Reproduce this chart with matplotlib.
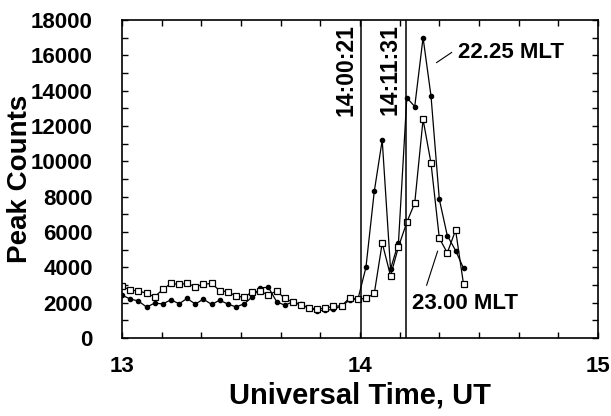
import numpy as np
import matplotlib
matplotlib.use("Agg")
import matplotlib.pyplot as plt
from matplotlib.ticker import MultipleLocator

plt.rcParams['font.family'] = ['Liberation Sans', 'DejaVu Sans']
plt.rcParams['font.weight'] = 'bold'

# sample times, minutes after 13:00 UT
minutes = [0, 2.1, 4.1, 6.2, 8.2, 10.3, 12.3, 14.4, 16.4, 18.5,
           20.5, 22.6, 24.6, 26.7, 28.7, 30.8, 32.8, 34.9, 36.9, 39.0,
           41.0, 43.1, 45.1, 47.2, 49.2, 51.3, 53.3, 55.4, 57.4, 59.5,
           61.5, 63.6, 65.6, 67.7, 69.7, 71.8, 73.8, 75.9, 77.9, 80.0,
           82.0, 84.1, 86.1]

# 22.25 MLT (filled dots)
counts_2225 = [2430, 2200, 2100, 1750, 1970, 1930, 2160, 1940, 2240, 1920,
               2200, 1900, 2140, 1920, 1760, 1930, 2320, 2840, 2870, 2050,
               1860, 2040, 1910, 1700, 1550, 1570, 1620, 1820, 2150, 2220,
               4000, 8300, 11200, 3900, 5400, 13600, 13100, 17000, 13700, 7850,
               5800, 4950, 3950]

# 23.00 MLT (open squares)
counts_2300 = [2940, 2700, 2670, 2530, 2330, 2750, 3090, 3030, 3090, 2900,
               3040, 3090, 2680, 2620, 2380, 2300, 2620, 2640, 2430, 2670,
               2240, 2030, 1860, 1690, 1650, 1680, 1800, 1820, 2280, 2200,
               2240, 2520, 5380, 3520, 5160, 6550, 7640, 12370, 9900, 5650,
               4820, 6100, 3050]

event_labels = ["14:00:21", "14:11:31"]
event_hours = [14 + 0/60 + 21/3600, 14 + 11/60 + 31/3600]

t = 13 + np.array(minutes) / 60.0

fig = plt.figure(figsize=(6.11, 4.16), dpi=100)
ax = fig.add_axes([0.1997, 0.1875, 0.779, 0.7645])

ax.plot(t, counts_2225, color="black", lw=0.9, marker="o", ms=3, mfc="black", mec="black")
ax.plot(t, counts_2300, color="black", lw=0.9, marker="s", ms=4.5, mfc="white", mec="black", mew=0.9)

for h, lab in zip(event_hours, event_labels):
    ax.axvline(h, color="black", lw=1.1)
    ax.annotate(lab, xy=(h, 18000), xytext=(-3, -3), textcoords="offset points",
                rotation=90, ha="right", va="top", fontsize=16.5, fontweight="bold")

# MLT labels with leader lines
ax.plot([14.322, 14.385], [15590, 16160], color="black", lw=0.8)
ax.text(14.41, 16160, "22.25 MLT", ha="left", va="center", fontsize=16, fontweight="bold")
ax.plot([14.280, 14.326], [2990, 4910], color="black", lw=0.8)
ax.text(14.218, 1950, "23.00 MLT", ha="left", va="center", fontsize=16, fontweight="bold")

ax.set_xlim(13, 15)
ax.set_ylim(0, 18000)
ax.xaxis.set_major_locator(MultipleLocator(1))
ax.xaxis.set_minor_locator(MultipleLocator(1 / 6))
ax.yaxis.set_major_locator(MultipleLocator(2000))
ax.yaxis.set_minor_locator(MultipleLocator(1000))
ax.tick_params(which="both", direction="in", top=True, right=True, length=4, width=1)
ax.tick_params(axis="y", pad=21, labelsize=16)
ax.tick_params(axis="x", pad=13, labelsize=16)
for s in ax.spines.values():
    s.set_linewidth(1.2)

ax.set_xlabel("Universal Time, UT", fontsize=21, fontweight="bold", labelpad=3)
ax.set_ylabel("Peak Counts", fontsize=20, fontweight="bold")
ax.yaxis.set_label_coords(-0.186, 0.5)

fig.savefig("out.png", dpi=100)
